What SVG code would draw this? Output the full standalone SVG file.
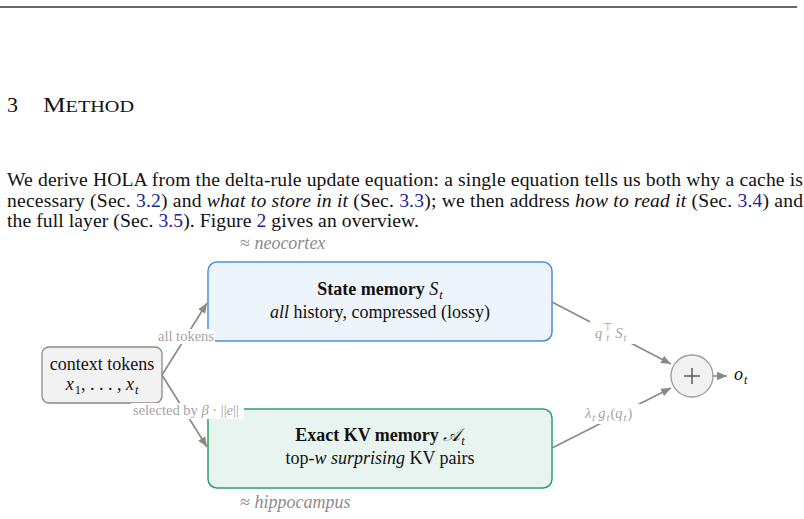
<svg xmlns="http://www.w3.org/2000/svg" width="804" height="519" viewBox="0 0 804 519">
<defs>
<style>
.serif{font-family:"Liberation Serif","Times New Roman",serif}
.para{font-family:"Liberation Serif",serif;font-size:19.6px;fill:#111}
.link{fill:#22229a}
.it{font-style:italic}
.box-text{font-family:"Liberation Serif",serif;font-size:18px;fill:#111;text-anchor:middle}
.bold{font-weight:bold}
.note{font-family:"Liberation Serif",serif;font-size:18px;fill:#8c8c8c}
.lbl{font-family:"Liberation Serif",serif;font-size:14.5px;fill:#a3a3a3}
.conn{stroke:#8a8a82;stroke-width:1.6;fill:none}
.lblbg{fill:#ffffff}
</style>
<marker id="ah" viewBox="0 0 10 10" refX="10" refY="5" markerWidth="10" markerHeight="10" markerUnits="userSpaceOnUse" orient="auto">
<path d="M0,0.8 L10,5 L0,9.2 z" fill="#8a8a82"/>
</marker>
</defs>
<rect x="0" y="0" width="804" height="519" fill="#ffffff"/>
<line x1="0" y1="7" x2="797" y2="7" stroke="#333" stroke-width="1.3"/>
<text class="serif" x="7" y="112" font-size="22" fill="#111">3</text>
<text class="serif" x="43" y="112" font-size="22" fill="#111" textLength="91" lengthAdjust="spacingAndGlyphs">M<tspan font-size="17.5">ETHOD</tspan></text>
<text class="para" x="7" y="186" textLength="796" lengthAdjust="spacing">We derive HOLA from the delta-rule update equation: a single equation tells us both why a cache is</text>
<text class="para" x="7" y="207" textLength="796" lengthAdjust="spacing">necessary (Sec. <tspan class="link">3.2</tspan>) and <tspan class="it">what to store in it</tspan> (Sec. <tspan class="link">3.3</tspan>); we then address <tspan class="it">how to read it</tspan> (Sec. <tspan class="link">3.4</tspan>) and</text>
<text class="para" x="7" y="227" textLength="412" lengthAdjust="spacing">the full layer (Sec. <tspan class="link">3.5</tspan>). Figure <tspan class="link">2</tspan> gives an overview.</text>

<text class="note" x="240" y="249">≈ <tspan class="it">neocortex</tspan></text>
<text class="note" x="240" y="508">≈ <tspan class="it">hippocampus</tspan></text>

<g id="state-memory">
<rect x="208" y="262" width="344" height="79" rx="9" fill="#eef4fc" stroke="#4a8fdc" stroke-width="1.5"/>
<text class="box-text" x="380" y="295"><tspan class="bold">State memory </tspan><tspan class="it">S</tspan><tspan class="it" font-size="12.5" dx="1" dy="4">t</tspan></text>
<text class="box-text" x="380" y="318"><tspan class="it">all</tspan> history, compressed (lossy)</text>
</g>

<g id="context-tokens">
<rect x="42" y="347" width="120" height="56" rx="7" fill="#f2f2f2" stroke="#8a8a8a" stroke-width="1.3"/>
<text class="box-text" x="102" y="370">context tokens</text>
<text class="box-text" x="102" y="390"><tspan class="it">x</tspan><tspan font-size="12.5" dx="1" dy="4">1</tspan><tspan dy="-4">, . . . , </tspan><tspan class="it">x</tspan><tspan class="it" font-size="12.5" dx="1" dy="4">t</tspan></text>
</g>

<g id="exact-kv-memory">
<rect x="208" y="409" width="344" height="79" rx="9" fill="#e8f4ef" stroke="#2e9e70" stroke-width="1.5"/>
<text class="box-text" x="380" y="441"><tspan class="bold">Exact KV memory </tspan><tspan class="it">𝒜</tspan><tspan class="it" font-size="12.5" dx="1" dy="4">t</tspan></text>
<text class="box-text" x="380" y="464">top-<tspan class="it">w surprising</tspan> KV pairs</text>
</g>

<g id="sum-node">
<circle cx="692" cy="376" r="21" fill="#f2f2f2" stroke="#9a9a9a" stroke-width="1.3"/>
<line x1="684" y1="376" x2="700" y2="376" stroke="#444" stroke-width="1.3"/>
<line x1="692" y1="368" x2="692" y2="384" stroke="#444" stroke-width="1.3"/>
</g>

<g id="output">
<text class="serif" x="734" y="380" font-size="18" fill="#111"><tspan class="it">o</tspan><tspan class="it" font-size="12" dx="1" dy="4">t</tspan></text>
</g>

<g id="connectors">
<line class="conn" x1="162" y1="375" x2="207" y2="303" marker-end="url(#ah)"/>
<line class="conn" x1="162" y1="375" x2="207" y2="447" marker-end="url(#ah)"/>
<line class="conn" x1="552" y1="302" x2="671" y2="364" marker-end="url(#ah)"/>
<line class="conn" x1="552" y1="448" x2="671" y2="388" marker-end="url(#ah)"/>
<line class="conn" x1="713" y1="376" x2="727" y2="376" marker-end="url(#ah)"/>

<rect class="lblbg" x="157" y="329" width="58" height="15"/>
<text class="lbl" x="186" y="341" text-anchor="middle">all tokens</text>

<rect class="lblbg" x="131" y="403" width="113" height="16"/>
<text class="lbl" x="133" y="415">selected by <tspan class="it">β</tspan> · ||<tspan class="it">e</tspan>||</text>

<rect class="lblbg" x="590" y="321" width="44" height="23"/>
<text class="lbl" x="595" y="338" font-size="15.5"><tspan class="it">q</tspan><tspan font-size="10.5" dx="1" dy="-7">⊤</tspan><tspan class="it" font-size="10.5" dx="-7" dy="10">t</tspan><tspan class="it" dx="6" dy="-3">S</tspan><tspan class="it" font-size="10.5" dx="1" dy="3">t</tspan></text>

<rect class="lblbg" x="582" y="404" width="62" height="20"/>
<text class="lbl" x="585" y="418" font-size="15.5"><tspan class="it">λ</tspan><tspan class="it" font-size="10.5" dx="1" dy="3">t</tspan><tspan class="it" dx="3" dy="-3">g</tspan><tspan class="it" font-size="10.5" dx="1" dy="3">t</tspan><tspan dx="1" dy="-3">(</tspan><tspan class="it">q</tspan><tspan class="it" font-size="10.5" dx="1" dy="3">t</tspan><tspan dx="1" dy="-3">)</tspan></text>
</g>
</svg>
